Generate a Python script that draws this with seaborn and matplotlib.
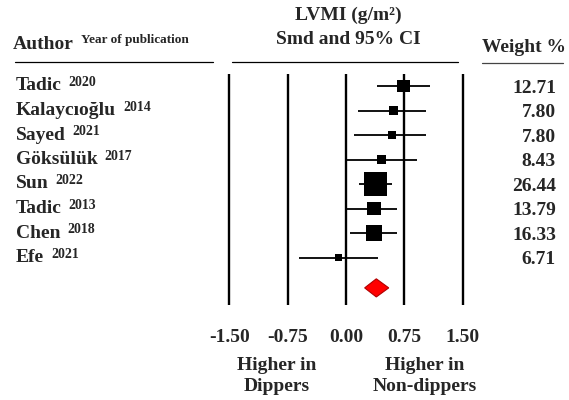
import matplotlib
matplotlib.use("Agg")
import matplotlib.pyplot as plt
import matplotlib.transforms as mtransforms
from matplotlib.lines import Line2D
import numpy as np
import pandas as pd
import seaborn as sns

# ---- data ----
authors = ["Tadic", "Kalaycıoğlu", "Sayed", "Göksülük", "Sun", "Tadic", "Chen", "Efe"]
years = ["2020", "2014", "2021", "2017", "2022", "2013", "2018", "2021"]
smd = [0.74, 0.61, 0.59, 0.46, 0.38, 0.36, 0.36, -0.10]
ci_lower = [0.40, 0.15, 0.10, 0.00, 0.17, 0.01, 0.05, -0.60]
ci_upper = [1.08, 1.03, 1.03, 0.91, 0.59, 0.65, 0.65, 0.41]
weights = [12.71, 7.80, 7.80, 8.43, 26.44, 13.79, 16.33, 6.71]
weight_labels = ["12.71", "7.80", "7.80", "8.43", "26.44", "13.79", "16.33", "6.71"]
pooled_smd = 0.39
pooled_lower = 0.24
pooled_upper = 0.55
xticks = [-1.50, -0.75, 0.00, 0.75, 1.50]
xtick_labels = ["-1.50", "-0.75", "0.00", "0.75", "1.50"]

sns.set_style("white")
plt.rcParams["font.family"] = ["Liberation Serif", "DejaVu Serif"]
plt.rcParams["font.weight"] = "bold"

W, H = 569, 400
fig = plt.figure(figsize=(W / 100, H / 100), dpi=100)


def fx(px):
    return px / W


def fy(py):
    return 1 - py / H


# axes placement in pixels
ax_left, ax_right, ax_top, ax_bot = 220, 470, 60, 310
ax = fig.add_axes([fx(ax_left), fy(ax_bot), fx(ax_right - ax_left), (ax_bot - ax_top) / H])

# scales: x pixel = 346 + 77.7*v ; row pixel = 86 + 24.5*i
xscale, x0 = 77.7, 346
ax.set_xlim((ax_left - x0) / xscale, (ax_right - x0) / xscale)
rstep, r0 = 24.5, 86
ax.set_ylim((ax_bot - r0) / rstep, (ax_top - r0) / rstep)

n = len(authors)
rows = np.arange(n)
df = pd.DataFrame({"smd": smd, "lo": ci_lower, "hi": ci_upper, "w": weights, "row": rows})
df["area"] = ((0.81 * df["w"] + 1.9) * 0.72) ** 2

# vertical reference lines
ax.vlines(xticks, (74 - r0) / rstep, (305 - r0) / rstep, color="black", lw=1.7, zorder=1)

# CI lines
ax.hlines(df["row"], df["lo"], df["hi"], color="black", lw=1.3, zorder=2)

# squares
amin, amax = df["area"].min(), df["area"].max()
sns.scatterplot(data=df, x="smd", y="row", size="area", sizes=(amin, amax),
                size_norm=(amin, amax), marker="s", color="black", linewidth=0,
                legend=False, ax=ax, zorder=3)

# pooled diamond
drow = 8.24
dh = 0.37
ax.fill([pooled_lower, pooled_smd, pooled_upper, pooled_smd],
        [drow, drow - dh, drow, drow + dh], facecolor="#ff0000",
        edgecolor="#b00000", lw=0.8, zorder=4)

for s in ax.spines.values():
    s.set_visible(False)
ax.set_xticks(xticks)
ax.set_xticklabels(xtick_labels, fontsize=14, fontweight="bold")
ax.tick_params(axis="x", length=0, pad=14)
ax.set_yticks([])
ax.set_xlabel("")
ax.set_ylabel("")

# row labels
blend = mtransforms.blended_transform_factory(fig.transFigure, ax.transData)
for i in range(n):
    t = fig.text(fx(16), rows[i], authors[i], transform=blend, fontsize=14,
                 fontweight="bold", ha="left", va="center")
    ax.annotate(years[i], xy=(1, 1), xycoords=t, xytext=(5, 1),
                textcoords="offset points", fontsize=10, fontweight="bold",
                ha="left", va="top", annotation_clip=False)
    fig.text(fx(556), rows[i] + 0.1, weight_labels[i], transform=blend, fontsize=14,
             fontweight="bold", ha="right", va="center")

# headers
ta = fig.text(fx(13), fy(49), "Author", fontsize=14, fontweight="bold",
              ha="left", va="baseline")
ax.annotate("Year of publication", xy=(1, 0), xycoords=ta, xytext=(5, 7),
            textcoords="offset points", fontsize=9.5, fontweight="bold",
            ha="left", va="baseline", annotation_clip=False)
fig.text(fx(348), fy(15), "LVMI (g/m²)", fontsize=14, fontweight="bold", ha="center", va="center")
fig.text(fx(348), fy(39), "Smd and 95% CI", fontsize=14, fontweight="bold", ha="center", va="center")
fig.text(fx(482), fy(47), "Weight %", fontsize=14, fontweight="bold", ha="left", va="center")

# header rules
fig.add_artist(Line2D([fx(15), fx(213)], [fy(62), fy(62)], color="black", lw=0.9))
fig.add_artist(Line2D([fx(232), fx(458)], [fy(62), fy(62)], color="black", lw=0.9))
fig.add_artist(Line2D([fx(482), fx(563)], [fy(63), fy(63)], color="#444444", lw=0.9))

# direction labels
fig.text(fx(277), fy(376), "Higher in\nDippers", fontsize=14, fontweight="bold",
         ha="center", va="center", multialignment="center", linespacing=1.3)
fig.text(fx(425), fy(376), "Higher in\nNon-dippers", fontsize=14, fontweight="bold",
         ha="center", va="center", multialignment="center", linespacing=1.3)

fig.savefig("out.png", dpi=100, facecolor="white")
